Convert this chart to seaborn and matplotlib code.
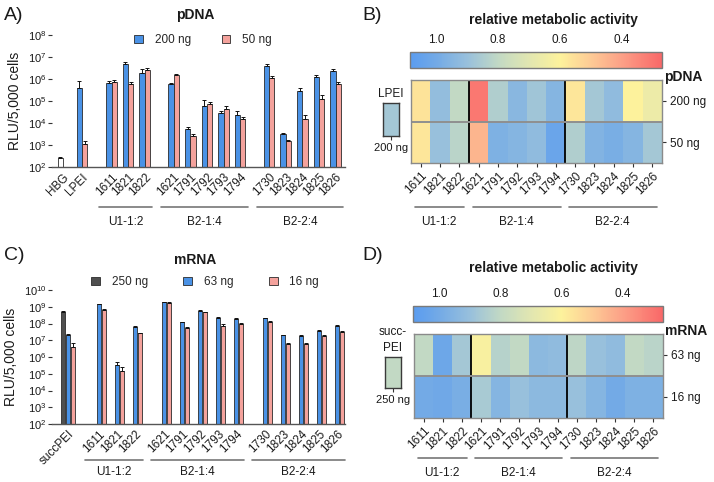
import numpy as np
import pandas as pd
import matplotlib
matplotlib.use("Agg")
import matplotlib.pyplot as plt
import matplotlib.transforms as mtransforms
from matplotlib.colors import LinearSegmentedColormap
from matplotlib.patches import Patch
from matplotlib.ticker import LogLocator, LogFormatterSciNotation, NullLocator
import seaborn as sns

sns.set_style("white")
plt.rcParams["font.family"] = ["Liberation Sans", "DejaVu Sans"]
plt.rcParams["mathtext.fontset"] = "custom"
plt.rcParams["mathtext.rm"] = "Liberation Sans"
plt.rcParams["mathtext.it"] = "Liberation Sans:italic"
plt.rcParams["mathtext.bf"] = "Liberation Sans:bold"

# ------------------------------------------------------------------ data
group_names = ["U1-1:2", "B2-1:4", "B2-2:4"]
group_members = [["1611", "1821", "1822"],
                 ["1621", "1791", "1792", "1793", "1794"],
                 ["1730", "1823", "1824", "1825", "1826"]]
polymers = [c for g in group_members for c in g]

# A) pDNA luciferase (RLU / 5,000 cells)
pdna_labels = ["HBG", "LPEI"] + polymers
pdna_200 = [250, 4.0e5, 6.8e5, 4.8e6, 1.8e6, 5.7e5, 5.2e3, 6.2e4, 2.8e4, 2.2e4,
            3.9e6, 3.3e3, 3.0e5, 1.2e6, 2.3e6]
pdna_200_err = [30, 4.0e5, 1.0e5, 1.3e6, 1.0e6, 1.1e5, 1.6e3, 4.6e4, 8e3, 1.4e4,
                1.1e6, 3e2, 7e4, 3.6e5, 5e5]
pdna_50 = [np.nan, 1.15e3, 7.5e5, 6.0e5, 2.5e6, 1.6e6, 2.7e3, 7.3e4, 4.2e4, 1.6e4,
           1.1e6, 1.6e3, 1.6e4, 1.2e5, 6.2e5]
pdna_50_err = [np.nan, 4e2, 1.5e5, 1.2e5, 7e5, 1.6e5, 4e2, 1.7e4, 1.5e4, 2.4e3,
               2.5e5, 1.1e2, 8e3, 6e4, 1.4e5]

# C) mRNA luciferase (RLU / 5,000 cells)
mrna_labels = ["succPEI"] + polymers
mrna_250 = [5.0e8] + [np.nan] * 13
mrna_250_err = [5e7] + [np.nan] * 13
mrna_63 = [2.0e7, 1.4e9, 3.3e5, 6.3e7, 1.9e9, 1.15e8, 5.8e8, 2.2e8, 1.9e8,
           2.0e8, 2.0e7, 1.8e7, 3.8e7, 7.2e7]
mrna_63_err = [3e6, 1.5e8, 1.5e5, 5e6, 1e8, 1e7, 6e7, 2e7, 1.5e7,
               1.5e7, 2e6, 2e6, 4e6, 6e6]
mrna_16 = [4.2e6, 6.0e8, 1.4e5, 2.6e7, 1.7e9, 5.5e7, 4.6e8, 7.0e7, 9.5e7,
           1.25e8, 6.0e6, 6.0e6, 1.9e7, 3.2e7]
mrna_16_err = [2.5e6, 1.5e8, 1e5, 3e6, 1e8, 5e6, 4e7, 2e7, 8e6,
               1e7, 6e5, 8e5, 2e6, 3e6]

# B) relative metabolic activity, pDNA
pdna_rows = ["200 ng", "50 ng"]
mact_pdna_200 = [0.56, 0.91, 0.80, 0.31, 0.84, 0.94, 0.88, 0.95, 0.57, 0.87, 0.92, 0.60, 0.66]
mact_pdna_50 = [0.57, 0.90, 0.82, 0.45, 0.97, 0.95, 0.92, 1.03, 0.84, 0.96, 0.98, 0.95, 0.87]
mact_lpei_200 = 0.87

# D) relative metabolic activity, mRNA
mrna_rows = ["63 ng", "16 ng"]
mact_mrna_63 = [0.80, 1.02, 0.87, 0.62, 0.83, 0.80, 0.93, 0.92, 0.81, 0.90, 0.92, 0.80, 0.82]
mact_mrna_16 = [1.00, 1.01, 0.98, 0.86, 0.95, 0.90, 0.93, 0.93, 0.90, 0.95, 1.00, 0.97, 0.97]
mact_succpei_250 = 0.80

cbar_ticks = [1.0, 0.8, 0.6, 0.4]

# ------------------------------------------------------------------ style
BLUE = "#4a92e6"
SALMON = "#f4a29c"
DARK = "#4f4f4f"
EDGE = "#2b2b2b"
TXT = "#1a1a1a"
VMIN, VMAX = 0.27, 1.085
cmap = LinearSegmentedColormap.from_list("metab", [
    (0.00, "#f96868"), (0.16, "#fca087"), (0.28, "#fdca95"), (0.405, "#fdf29c"),
    (0.53, "#e1e6b1"), (0.65, "#c2d9c4"), (0.773, "#98c0dc"), (0.896, "#73aae6"),
    (1.00, "#5a9cf0")])

W, H = 714, 482
fig = plt.figure(figsize=(W / 100, H / 100), dpi=100)


def px_axes(l, t, r, b):
    return fig.add_axes([l / W, 1 - b / H, (r - l) / W, (b - t) / H])


def category_positions(n_controls, control_step, first_gap, group_gap):
    pos = [i * control_step for i in range(n_controls)]
    x = pos[-1]
    for gi, members in enumerate(group_members):
        x += first_gap if gi == 0 else group_gap
        for j in range(len(members)):
            if j > 0:
                x += 1
            pos.append(x)
    return pos


def bar_panel(ax, labels, positions, series, hue_order, palette, width, gap,
              xlim, ymax, line_y, text_y):
    frames = []
    for dose, (vals, errs) in zip(hue_order, series):
        frames.append(pd.DataFrame({"label": labels, "pos": positions,
                                    "dose": dose, "val": vals, "err": errs}))
    df = pd.concat(frames, ignore_index=True).dropna(subset=["val"])
    sns.barplot(data=df, x="pos", y="val", hue="dose", hue_order=hue_order,
                palette=palette, native_scale=True,
                width=width, gap=gap, errorbar=None, saturation=1,
                edgecolor=EDGE, linewidth=0.6, legend=False, ax=ax)
    ax.set_yscale("log")
    # error bars (upper only) attached to the drawn bars
    for cont, dose in zip(ax.containers, hue_order):
        sub = df[df["dose"] == dose].sort_values("pos")
        for bar, (_, row) in zip(cont, sub.iterrows()):
            xc = bar.get_x() + bar.get_width() / 2
            ax.errorbar(xc, bar.get_height(), yerr=[[0], [row["err"]]], fmt="none",
                        ecolor="#111111", elinewidth=0.7, capsize=1.3,
                        capthick=0.7, zorder=1)
    ax.set_ylim(1e2, ymax)
    ax.set_xlim(*xlim)
    ax.yaxis.set_major_locator(LogLocator(base=10, numticks=20))
    ax.yaxis.set_major_formatter(LogFormatterSciNotation())
    ax.yaxis.set_minor_locator(NullLocator())
    ax.set_xticks(positions)
    ax.set_xticklabels(labels, rotation=45, ha="right", rotation_mode="anchor",
                       fontsize=8.5, color=TXT)
    ax.tick_params(axis="x", length=0, pad=3)
    ax.tick_params(axis="y", length=3, width=0.8, color="#333333", labelsize=8,
                   labelcolor=TXT, pad=1, left=True)
    for s in ["top", "right", "left"]:
        ax.spines[s].set_visible(False)
    ax.spines["bottom"].set_color("#555555")
    ax.spines["bottom"].set_linewidth(1.0)
    ax.set_xlabel("")
    ax.set_ylabel("RLU/5,000 cells", fontsize=10, color=TXT, labelpad=4)
    # group brackets
    trans = mtransforms.blended_transform_factory(ax.transData, ax.transAxes)
    idx = len(labels) - len(polymers)
    for name, members in zip(group_names, group_members):
        p = positions[idx: idx + len(members)]
        idx += len(members)
        ax.plot([p[0] - 0.75, p[-1] + 0.45], [line_y, line_y], transform=trans,
                color="#777777", lw=1.2, clip_on=False)
        ax.text((p[0] + p[-1]) / 2 - 0.15, text_y, name, transform=trans,
                ha="center", va="center", fontsize=8.5, color=TXT)
    return df


# ------------------------------------------------------------------ A
axA = px_axes(52, 35, 345, 167)
posA = category_positions(2, 1.15, 1.78, 1.75)
bar_panel(axA, pdna_labels, posA,
          [(pdna_200, pdna_200_err), (pdna_50, pdna_50_err)],
          ["200 ng", "50 ng"], {"200 ng": BLUE, "50 ng": SALMON},
          0.64, 0.0, (-0.66, 17.0), 1e8, -0.30, -0.415)
axA.containers[0][0].set_facecolor("white")  # HBG buffer control
fig.legend(handles=[Patch(facecolor=BLUE, edgecolor=EDGE, lw=0.6),
                    Patch(facecolor=SALMON, edgecolor=EDGE, lw=0.6)],
           labels=["200 ng", "50 ng"], loc="center",
           bbox_to_anchor=(203 / W, 1 - 40 / H), ncol=2, frameon=False,
           fontsize=8.5, handlelength=0.75, handleheight=0.75,
           handletextpad=1.0, columnspacing=2.6)
fig.text(195 / W, 1 - 15 / H, "pDNA", ha="center", va="center",
         fontsize=10, fontweight="bold", color=TXT)

# ------------------------------------------------------------------ C
axC = px_axes(52, 290, 345, 424)
posC = category_positions(1, 1.0, 1.72, 1.62)
bar_panel(axC, mrna_labels, posC,
          [(mrna_250, mrna_250_err), (mrna_63, mrna_63_err), (mrna_16, mrna_16_err)],
          ["250 ng", "63 ng", "16 ng"],
          {"250 ng": DARK, "63 ng": BLUE, "16 ng": SALMON},
          0.83, 0.2, (-0.89, 15.39), 1e10, -0.27, -0.36)
fig.legend(handles=[Patch(facecolor=DARK, edgecolor=EDGE, lw=0.6),
                    Patch(facecolor=BLUE, edgecolor=EDGE, lw=0.6),
                    Patch(facecolor=SALMON, edgecolor=EDGE, lw=0.6)],
           labels=["250 ng", "63 ng", "16 ng"], loc="center",
           bbox_to_anchor=(205 / W, 1 - 282 / H), ncol=3, frameon=False,
           fontsize=8.5, handlelength=0.75, handleheight=0.75,
           handletextpad=1.0, columnspacing=3.0)
fig.text(195 / W, 1 - 260 / H, "mRNA", ha="center", va="center",
         fontsize=10, fontweight="bold", color=TXT)


# ------------------------------------------------------------------ heatmaps
def heat_panel(ax_h, ax_cb, ax_box, rows, row_vals, tag, box_val, box_title,
               box_label, title_y, line_y, text_y):
    df = pd.DataFrame(row_vals, index=rows, columns=polymers)
    sns.heatmap(df, ax=ax_h, cmap=cmap, vmin=VMIN, vmax=VMAX, cbar_ax=ax_cb,
                cbar_kws={"orientation": "horizontal", "ticks": cbar_ticks})
    cb = ax_h.collections[0].colorbar
    cb.ax.invert_xaxis()
    cb.ax.xaxis.set_ticks_position("top")
    cb.ax.tick_params(axis="x", direction="in", top=True, bottom=True,
                      labeltop=True, labelbottom=False, length=3, width=0.8,
                      color="#222222", labelsize=8.5, labelcolor=TXT, pad=4)
    cb.ax.set_xticks(cbar_ticks)
    cb.ax.set_xticklabels([f"{t:.1f}" for t in cbar_ticks])
    cb.outline.set_edgecolor("#7a7a7a")
    cb.outline.set_linewidth(1.0)
    # heat map decoration
    for s in ax_h.spines.values():
        s.set_visible(True)
        s.set_color("#8a8a8a")
        s.set_linewidth(1.0)
    bounds = np.cumsum([len(m) for m in group_members])[:-1]
    for b in bounds:
        ax_h.axvline(b, color="black", lw=1.3)
    ax_h.axhline(1, color="#8f8f8f", lw=1.4)
    plt.setp(ax_h.get_xticklabels(), rotation=45, ha="right",
             rotation_mode="anchor", fontsize=8.5, color=TXT)
    ax_h.tick_params(axis="x", bottom=True, length=3, width=0.8,
                     color="#333333", pad=2)
    ax_h.yaxis.set_ticks_position("right")
    ax_h.tick_params(axis="y", right=True, left=False, labelright=True,
                     labelleft=False, length=3, width=0.8, color="#333333",
                     labelsize=8.5, labelcolor=TXT, pad=3)
    plt.setp(ax_h.get_yticklabels(), rotation=0)
    ax_h.set_xlabel("")
    ax_h.set_ylabel("")
    ax_h.text(1.01, 1.04, tag, transform=ax_h.transAxes, ha="left",
              va="center", fontsize=10, fontweight="bold", color=TXT)
    fig.text(553 / W, 1 - title_y / H, "relative metabolic activity",
             ha="center", va="center", fontsize=10, fontweight="bold", color=TXT)
    trans = mtransforms.blended_transform_factory(ax_h.transData, ax_h.transAxes)
    start = 0
    for name, members in zip(group_names, group_members):
        end = start + len(members)
        ax_h.plot([start + 0.2, end - 0.25], [line_y, line_y], transform=trans,
                  color="#777777", lw=1.2, clip_on=False)
        ax_h.text((start + end) / 2 - 0.05, text_y, name, transform=trans,
                  ha="center", va="center", fontsize=8.5, color=TXT)
        start = end
    # reference control box
    sns.heatmap(pd.DataFrame([[box_val]], index=[""], columns=[box_label]),
                ax=ax_box, cmap=cmap, vmin=VMIN, vmax=VMAX, cbar=False)
    for s in ax_box.spines.values():
        s.set_visible(True)
        s.set_color("#3a3a3a")
        s.set_linewidth(1.0)
    ax_box.set_yticks([])
    ax_box.tick_params(axis="x", bottom=True, length=3, width=0.8,
                       color="#333333", labelsize=8, labelcolor=TXT, pad=2)
    plt.setp(ax_box.get_xticklabels(), rotation=0)
    ax_box.set_title(box_title, fontsize=8.5, color=TXT, pad=4,
                     linespacing=1.5)
    ax_box.set_xlabel("")
    ax_box.set_ylabel("")


hB = px_axes(411, 80, 662, 163)
cbB = px_axes(410, 52, 662, 68)
boxB = px_axes(383, 103, 399, 136)
heat_panel(hB, cbB, boxB, pdna_rows, [mact_pdna_200, mact_pdna_50], "pDNA",
           mact_lpei_200, "LPEI", "200 ng", 20, -0.53, -0.71)

hD = px_axes(414, 334, 663, 418)
cbD = px_axes(413, 306, 663, 322)
boxD = px_axes(385, 357, 401, 388)
heat_panel(hD, cbD, boxD, mrna_rows, [mact_mrna_63, mact_mrna_16], "mRNA",
           mact_succpei_250, "succ-\nPEI", "250 ng", 268, -0.476, -0.655)

# ------------------------------------------------------------------ panel letters
for letter, (x, y) in {"A)": (4, 15), "B)": (362, 15), "C)": (4, 255),
                       "D)": (362, 255)}.items():
    fig.text(x / W, 1 - y / H, letter, ha="left", va="center", fontsize=14,
             color=TXT)

fig.savefig("out.png", dpi=100)
